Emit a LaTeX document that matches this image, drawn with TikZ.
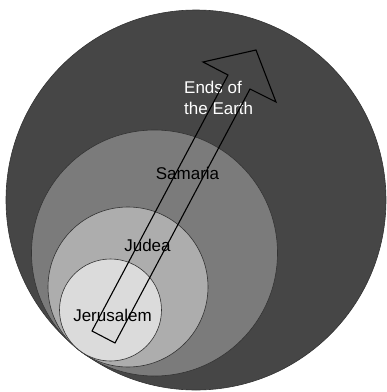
\documentclass[tikz,border=0pt]{standalone}
\usepackage{fontspec}
\setmainfont{Liberation Sans}
\usepackage{tikz}
\usetikzlibrary{positioning, calc}
\definecolor{earthgray}{HTML}{464646}
\definecolor{samariagray}{HTML}{7B7B7B}
\definecolor{judeagray}{HTML}{ADADAD}
\definecolor{jerusalemgray}{HTML}{DBDBDB}
\tikzset{region/.style={circle, draw=black!80, line width=0.6pt, inner sep=0pt},
    place/.style={font=\fontsize{17}{21}\selectfont, inner sep=0pt},
    blockarrow/.style={draw=black, line width=1.1pt, line join=miter}}

\begin{document}
\begin{tikzpicture}[x=1pt, y=-1pt]
\useasboundingbox (0,0) rectangle (387,392);
\node[region, fill=earthgray, minimum size=380pt] (earth) at (196,200) {};
\node[region, fill=samariagray, minimum size=246pt] (samaria) at (154.5,253) {};
\node[region, fill=judeagray, minimum size=160pt] (judea) at (128,287) {};
\node[region, fill=jerusalemgray, minimum size=102pt] (jerusalem) at (110.5,310) {};
\node[place, text=white, align=left, anchor=west] (endslabel) at (184,97.5) {Ends of\\the Earth};
\node[place] (samarialabel) at (187.5,173) {Samaria};
\node[place] (judealabel) at (147.5,245) {Judea};
\node[place] (jerusalemlabel) at (112.5,315) {Jerusalem};
% the block arrow
\coordinate (tailL) at (92,331);
\coordinate (tailR) at (115,343);
\coordinate (tip) at (256,50);
\draw[blockarrow] (tailL) -- (228,75) -- (203,62) -- (tip) -- (276,102) -- (250,89) -- (tailR) -- cycle;
\end{tikzpicture}
\end{document}
